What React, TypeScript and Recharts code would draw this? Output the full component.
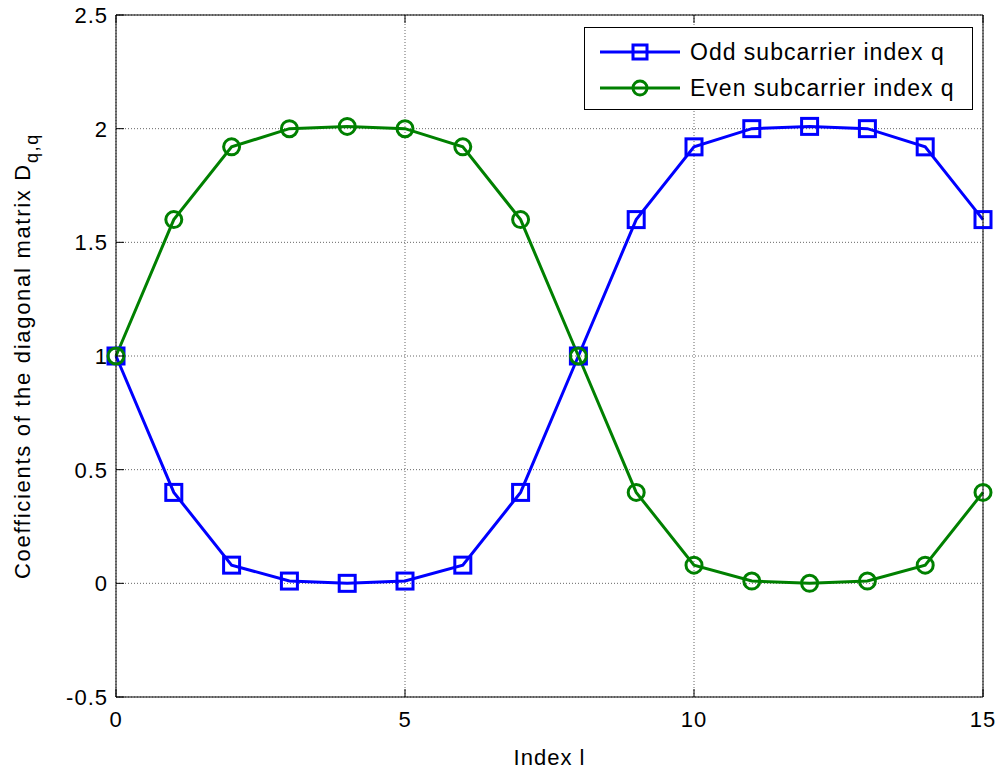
import React from "react";
import { LineChart, Line, XAxis, YAxis, CartesianGrid } from "recharts";

const indices = [0, 1, 2, 3, 4, 5, 6, 7, 8, 9, 10, 11, 12, 13, 14, 15];
const oddValues = [1, 0.4, 0.08, 0.01, 0, 0.01, 0.08, 0.4, 1, 1.6, 1.92, 2, 2.01, 2, 1.92, 1.6];
const evenValues = [1, 1.6, 1.92, 2, 2.01, 2, 1.92, 1.6, 1, 0.4, 0.08, 0.01, 0, 0.01, 0.08, 0.4];
const xTicks = [0, 5, 10, 15];
const yTicks = [-0.5, 0, 0.5, 1, 1.5, 2, 2.5];

const BLUE = "#0000ff";
const GREEN = "#008000";
const FONT = "'Liberation Sans', Arial, sans-serif";

const data = indices.map((l, i) => ({ l, odd: oddValues[i], even: evenValues[i] }));

const SquareDot = (props: any) => {
  const { cx, cy } = props;
  if (cx == null || cy == null) return null;
  return <rect x={cx - 8} y={cy - 8} width={16} height={16} fill="none" stroke={BLUE} strokeWidth={3} />;
};

const CircleDot = (props: any) => {
  const { cx, cy } = props;
  if (cx == null || cy == null) return null;
  return <circle cx={cx} cy={cy} r={8} fill="none" stroke={GREEN} strokeWidth={3} />;
};

const TICK_MARGIN = 9;
const TICK_LEN = 8;

// left axis: label + inner tick
const LeftTick = (props: any) => {
  const { x, y, payload } = props;
  const edge = x + TICK_MARGIN;
  return (
    <g>
      <line x1={edge} x2={edge + TICK_LEN} y1={y} y2={y} stroke="#000" />
      <text x={x + 1} y={y} dy={8} textAnchor="end" fontSize={22} letterSpacing={1} fontFamily={FONT} fill="#000">
        {payload.value}
      </text>
    </g>
  );
};

// bottom axis: label + inner tick
const BottomTick = (props: any) => {
  const { x, y, payload } = props;
  const edge = y - TICK_MARGIN;
  return (
    <g>
      <line x1={x} x2={x} y1={edge} y2={edge - TICK_LEN} stroke="#000" />
      <text x={x} y={y} dy={21} textAnchor="middle" fontSize={22} letterSpacing={1} fontFamily={FONT} fill="#000">
        {payload.value}
      </text>
    </g>
  );
};

const TopTick = (props: any) => {
  const { x, y } = props;
  return <line x1={x} x2={x} y1={y} y2={y + TICK_LEN} stroke="#000" />;
};

const RightTick = (props: any) => {
  const { x, y } = props;
  return <line x1={x} x2={x - TICK_LEN} y1={y} y2={y} stroke="#000" />;
};

const YLabel = (props: any) => {
  const { viewBox } = props;
  const cx = viewBox.x + 30;
  const cy = viewBox.y + viewBox.height / 2;
  return (
    <text
      x={cx}
      y={cy}
      transform={`rotate(-90, ${cx}, ${cy})`}
      textAnchor="middle"
      fontSize={22}
      letterSpacing={1.7}
      fontFamily={FONT}
      fill="#000"
    >
      <tspan>Coefficients of the diagonal matrix D</tspan>
      <tspan dy={8} fontSize={18}>q,q</tspan>
    </text>
  );
};

const XLabel = (props: any) => {
  const { viewBox } = props;
  const cx = viewBox.x + viewBox.width / 2;
  return (
    <text x={cx} y={viewBox.y + 68} textAnchor="middle" fontSize={22} letterSpacing={1} fontFamily={FONT} fill="#000">
      Index l
    </text>
  );
};

const legendItems = [
  { name: "Odd subcarrier index q", color: BLUE, shape: "square" },
  { name: "Even subcarrier index q", color: GREEN, shape: "circle" },
];

const LegendBox = () => (
  <svg
    width={390}
    height={84}
    style={{ position: "absolute", left: 584, top: 27, display: "block" }}
  >
    <rect x={0.5} y={0.5} width={388} height={82} fill="#fff" stroke="#000" />
    {legendItems.map((it, i) => {
      const cy = 25 + i * 36;
      return (
        <g key={it.name}>
          <line x1={16} x2={96} y1={cy} y2={cy} stroke={it.color} strokeWidth={3} />
          {it.shape === "square" ? (
            <rect x={49} y={cy - 7} width={14} height={14} fill="none" stroke={it.color} strokeWidth={3} />
          ) : (
            <circle cx={56} cy={cy} r={7} fill="none" stroke={it.color} strokeWidth={3} />
          )}
          <text x={106} y={cy + 8} fontSize={23} letterSpacing={1} fontFamily={FONT} fill="#000">
            {it.name}
          </text>
        </g>
      );
    })}
  </svg>
);

export default function App() {
  return (
    <div style={{ position: "absolute", left: 0, top: 0, width: 1000, height: 771, background: "#fff" }}>
      <LineChart
        width={1000}
        height={771}
        data={data}
        margin={{ top: 10, right: 12, bottom: 34, left: 0 }}
      >
        <CartesianGrid
          xAxisId="bottom"
          yAxisId="left"
          stroke="#666"
          strokeDasharray="1 2"
          horizontalValues={yTicks}
          verticalValues={xTicks}
        />
        <XAxis
          xAxisId="bottom"
          dataKey="l"
          type="number"
          domain={[0, 15]}
          ticks={xTicks}
          tickSize={0}
          tickMargin={TICK_MARGIN}
          height={40}
          axisLine={{ stroke: "#000" }}
          tickLine={false}
          tick={<BottomTick />}
          label={<XLabel />}
        />
        <XAxis
          xAxisId="top"
          orientation="top"
          dataKey="l"
          type="number"
          domain={[0, 15]}
          ticks={xTicks}
          tickSize={0}
          tickMargin={0}
          height={5}
          axisLine={{ stroke: "#000" }}
          tickLine={false}
          tick={<TopTick />}
        />
        <YAxis
          yAxisId="left"
          type="number"
          domain={[-0.5, 2.5]}
          ticks={yTicks}
          tickSize={0}
          tickMargin={TICK_MARGIN}
          width={116}
          axisLine={{ stroke: "#000" }}
          tickLine={false}
          tick={<LeftTick />}
          label={<YLabel />}
        />
        <YAxis
          yAxisId="right"
          orientation="right"
          type="number"
          domain={[-0.5, 2.5]}
          ticks={yTicks}
          tickSize={0}
          tickMargin={0}
          width={5}
          axisLine={{ stroke: "#000" }}
          tickLine={false}
          tick={<RightTick />}
        />
        <Line
          xAxisId="bottom"
          yAxisId="left"
          type="linear"
          dataKey="odd"
          name="Odd subcarrier index q"
          stroke={BLUE}
          strokeWidth={3}
          dot={<SquareDot />}
          activeDot={false}
          isAnimationActive={false}
        />
        <Line
          xAxisId="bottom"
          yAxisId="left"
          type="linear"
          dataKey="even"
          name="Even subcarrier index q"
          stroke={GREEN}
          strokeWidth={3}
          dot={<CircleDot />}
          activeDot={false}
          isAnimationActive={false}
        />
      </LineChart>
      <LegendBox />
    </div>
  );
}
